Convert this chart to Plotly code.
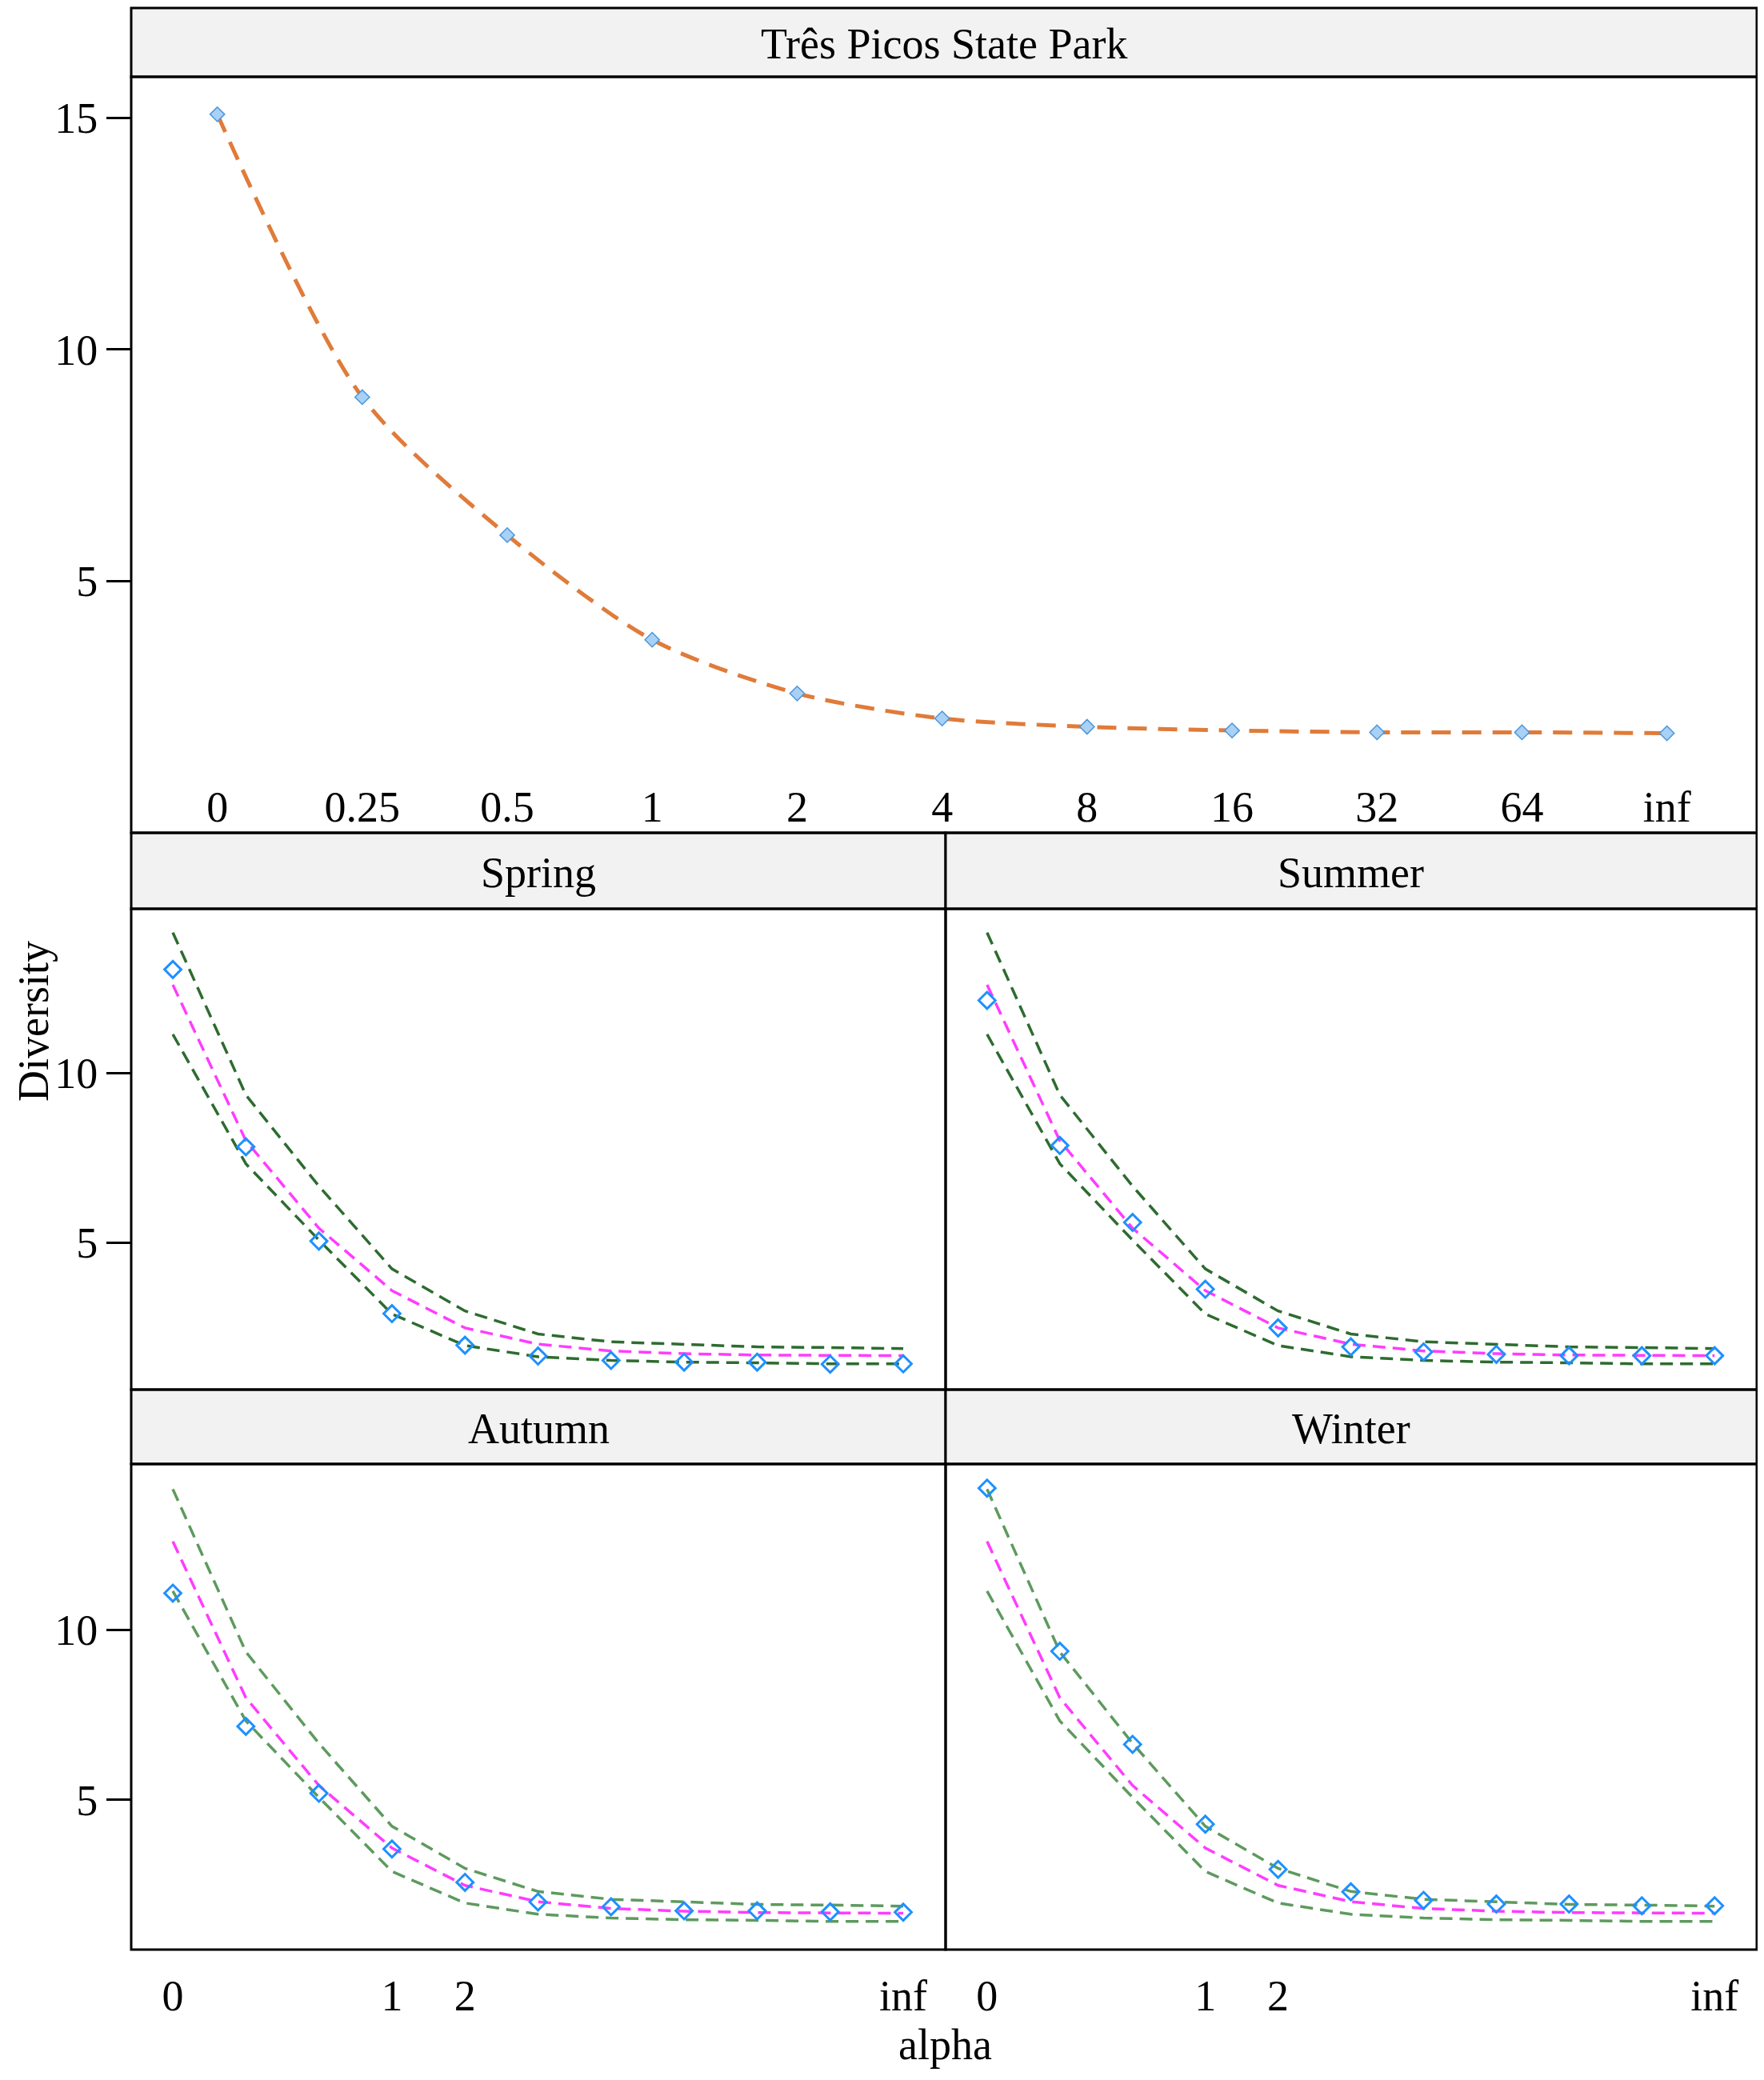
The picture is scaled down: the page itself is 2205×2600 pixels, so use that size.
import plotly.graph_objects as go

# ---------------- data ----------------
alpha_labels = ["0", "0.25", "0.5", "1", "2", "4", "8", "16", "32", "64", "inf"]
alpha_idx = list(range(len(alpha_labels)))

park_diversity = [15.08, 8.97, 5.99, 3.73, 2.57, 2.03, 1.85, 1.77, 1.73, 1.73, 1.71]

env_upper = [14.14, 9.35, 6.66, 4.22, 2.98, 2.30, 2.07, 1.99, 1.92, 1.90, 1.87]
env_mean = [12.60, 8.00, 5.42, 3.58, 2.48, 2.00, 1.80, 1.72, 1.68, 1.67, 1.66]
env_lower = [11.14, 7.32, 5.07, 2.89, 1.96, 1.63, 1.52, 1.47, 1.45, 1.42, 1.42]

spring = [13.05, 7.82, 5.04, 2.90, 1.97, 1.65, 1.52, 1.47, 1.47, 1.41, 1.42]
summer = [12.14, 7.86, 5.59, 3.62, 2.48, 1.92, 1.77, 1.70, 1.66, 1.66, 1.66]
autumn = [11.08, 7.16, 5.19, 3.55, 2.57, 1.99, 1.85, 1.73, 1.73, 1.70, 1.69]
winter = [14.17, 9.37, 6.63, 4.28, 2.95, 2.29, 2.04, 1.93, 1.93, 1.88, 1.88]

season_names = ["Spring", "Summer", "Autumn", "Winter"]
season_values = [spring, summer, autumn, winter]

bottom_tickvals = [0, 3, 4, 10]
bottom_ticktext = ["0", "1", "2", "inf"]
top_title = "Três Picos State Park"

# ---------------- layout geometry (page pixels) ----------------
PAGE_W, PAGE_H = 2205, 2600
OFF = 8  # browser body margin
W, H = PAGE_W - 2 * OFF, PAGE_H - 2 * OFF
FONT = "Liberation Serif"
FS = 54

def px(x):
    return (x - OFF) / W

def py(y):
    return 1 - (y - OFF) / H

X_L0, X_M, X_R1 = 164, 1182, 2196
TOP_STRIP = (10, 96)
TOP_PLOT = (96, 1041)
MID_STRIP = (1041, 1136)
MID_PLOT = (1136, 1737)
BOT_STRIP = (1737, 1830)
BOT_PLOT = (1830, 2437)

panels = {
    "top": (X_L0, X_R1, TOP_PLOT, TOP_STRIP),
    "Spring": (X_L0, X_M, MID_PLOT, MID_STRIP),
    "Summer": (X_M, X_R1, MID_PLOT, MID_STRIP),
    "Autumn": (X_L0, X_M, BOT_PLOT, BOT_STRIP),
    "Winter": (X_M, X_R1, BOT_PLOT, BOT_STRIP),
}

fig = go.Figure()

GREEN_MID = "#2E6B30"
GREEN_BOT = "#5E9A5E"
PINK = "#FF3CFF"
BLUE = "#1E90FF"
ORANGE = "#E07B39"

# top panel
fig.add_trace(go.Scatter(
    x=alpha_idx, y=park_diversity, mode="lines",
    line=dict(color=ORANGE, width=5, dash="24px,14px", shape="spline", smoothing=0.8),
    xaxis="x", yaxis="y", showlegend=False, hoverinfo="skip"))
fig.add_trace(go.Scatter(
    x=alpha_idx, y=park_diversity, mode="markers",
    marker=dict(symbol="diamond", size=14, color="#A9D0F5",
                line=dict(color="#4A97DA", width=1.5)),
    xaxis="x", yaxis="y", showlegend=False))

axis_ids = ["2", "3", "4", "5"]
for i, (name, vals) in enumerate(zip(season_names, season_values)):
    ax = axis_ids[i]
    green = GREEN_MID if i < 2 else GREEN_BOT
    for env, col in ((env_upper, green), (env_lower, green), (env_mean, PINK)):
        fig.add_trace(go.Scatter(
            x=alpha_idx, y=env, mode="lines",
            line=dict(color=col, width=3.5, dash="16px,9px"),
            xaxis="x" + ax, yaxis="y" + ax, showlegend=False, hoverinfo="skip"))
    fig.add_trace(go.Scatter(
        x=alpha_idx, y=vals, mode="markers",
        marker=dict(symbol="diamond-open", size=16, color=BLUE, line=dict(width=3, color=BLUE)),
        xaxis="x" + ax, yaxis="y" + ax, showlegend=False))

base_font = dict(family=FONT, size=FS, color="black")

layout = dict(
    width=W, height=H,
    margin=dict(l=0, r=0, t=0, b=0),
    paper_bgcolor="white", plot_bgcolor="white",
    font=base_font,
    showlegend=False,
)

layout["xaxis"] = dict(
    domain=[px(X_L0), px(X_R1)], range=[-0.594, 10.62], anchor="y",
    tickvals=alpha_idx, ticktext=alpha_labels, ticks="", ticklabelposition="inside",
    showgrid=False, zeroline=False, showline=False, tickfont=base_font)
layout["yaxis"] = dict(
    domain=[py(TOP_PLOT[1]), py(TOP_PLOT[0])], range=[-0.44, 15.89], anchor="x",
    tickvals=[5, 10, 15], ticks="outside", ticklen=30, tickwidth=3, tickcolor="black",
    showgrid=False, zeroline=False, showline=False, tickfont=base_font)

xr = [-0.57, 10.58]
for i, name in enumerate(season_names):
    ax = axis_ids[i]
    x0, x1, (p0, p1), _ = panels[name]
    bottom = i >= 2
    left = i % 2 == 0
    yr = [0.66, 14.84] if not bottom else [0.59, 14.88]
    xa = dict(domain=[px(x0), px(x1)], range=xr, anchor="y" + ax,
              showgrid=False, zeroline=False, showline=False, tickfont=base_font)
    if bottom:
        xa.update(tickvals=bottom_tickvals, ticktext=bottom_ticktext, ticks="outside",
                  ticklen=10, tickcolor="rgba(0,0,0,0)")
    else:
        xa.update(showticklabels=False, ticks="")
    ya = dict(domain=[py(p1), py(p0)], range=yr, anchor="x" + ax,
              showgrid=False, zeroline=False, showline=False, tickfont=base_font)
    if left:
        ya.update(tickvals=[5, 10], ticks="outside", ticklen=30, tickwidth=3, tickcolor="black")
    else:
        ya.update(showticklabels=False, ticks="")
    layout["xaxis" + ax] = xa
    layout["yaxis" + ax] = ya

shapes = []
annotations = []
for name, (x0, x1, (p0, p1), (s0, s1)) in panels.items():
    shapes.append(dict(type="rect", xref="paper", yref="paper",
                       x0=px(x0), x1=px(x1), y0=py(s1), y1=py(s0),
                       fillcolor="#F2F2F2", line=dict(color="black", width=3), layer="below"))
    shapes.append(dict(type="rect", xref="paper", yref="paper",
                       x0=px(x0), x1=px(x1), y0=py(p1), y1=py(p0),
                       fillcolor="rgba(0,0,0,0)", line=dict(color="black", width=3)))
    label = top_title if name == "top" else name
    annotations.append(dict(text=label, xref="paper", yref="paper",
                            x=(px(x0) + px(x1)) / 2, y=py((s0 + s1) / 2 + 2),
                            xanchor="center", yanchor="middle", showarrow=False,
                            font=base_font))

annotations.append(dict(text="alpha", xref="paper", yref="paper",
                        x=px(1181), y=py(2556), xanchor="center", yanchor="middle",
                        showarrow=False, font=base_font))
annotations.append(dict(text="Diversity", xref="paper", yref="paper",
                        x=px(42), y=py(1277), xanchor="center", yanchor="middle",
                        textangle=-90, showarrow=False, font=base_font))

layout["shapes"] = shapes
layout["annotations"] = annotations
fig.update_layout(**layout)

fig.write_html("out.html")
